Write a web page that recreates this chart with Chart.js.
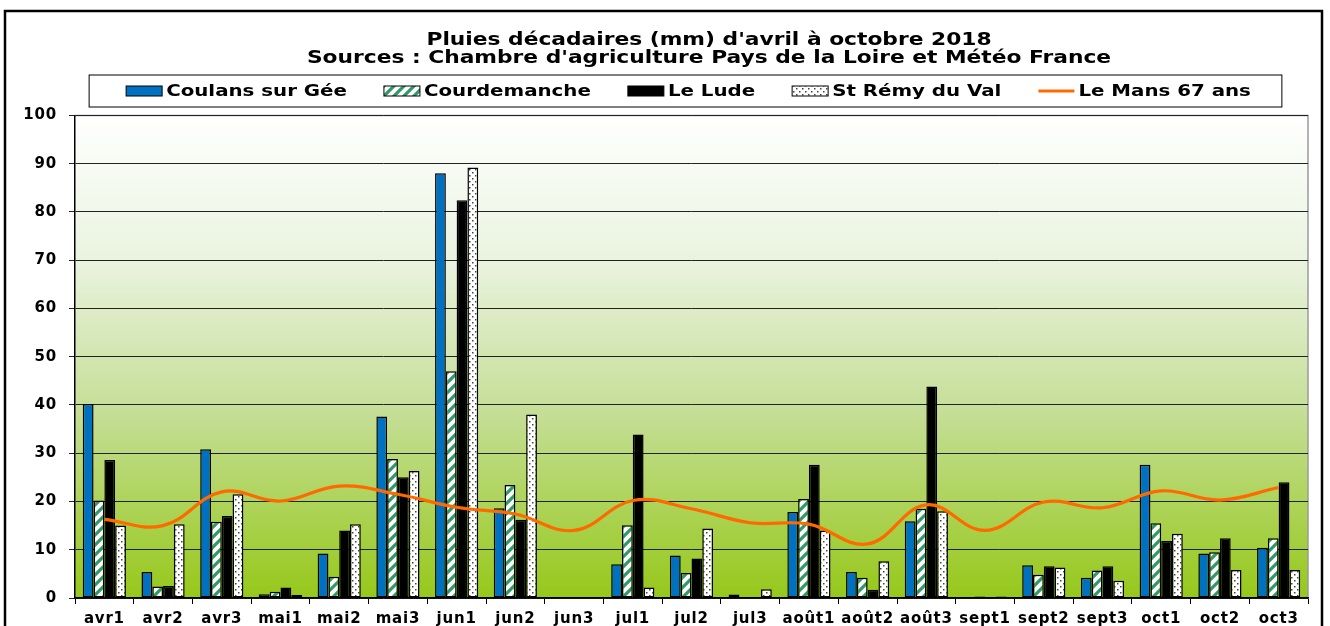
<!DOCTYPE html>
<html>
<head>
<meta charset="utf-8">
<script src="https://cdn.jsdelivr.net/npm/chart.js@4"></script>
<style>
    html, body {
        margin: 0;
        padding: 0;
        background: #ffffff;
    }
    #wrap {
        width: 1330px;
        height: 626px;
    }
</style>
</head>
<body>
<div id="wrap">
    <canvas id="rainChart" width="1330" height="626"></canvas>
</div>
<script>

const decades = [
    "avr1", "avr2", "avr3", "mai1", "mai2", "mai3", "jun1",
    "jun2", "jun3", "jul1", "jul2", "jul3", "août1", "août2",
    "août3", "sept1", "sept2", "sept3", "oct1", "oct2", "oct3"
];

const coulans = [
    40.2, 5.4, 30.8, 0.8, 9.2, 37.6, 88.0,
    18.6, 0.2, 7.0, 8.8, 0.7, 17.8, 5.4,
    15.9, 0, 6.8, 4.2, 27.6, 9.2, 10.4
];

const courdemanche = [
    20.2, 2.4, 15.8, 1.3, 4.4, 28.8, 47.0,
    23.4, 0, 15.1, 5.2, 0.2, 20.5, 4.2,
    18.5, 0.3, 4.8, 5.7, 15.5, 9.5, 12.4
];

const leLude = [
    28.6, 2.5, 17.0, 2.2, 14.0, 25.0, 82.4,
    16.2, 0, 33.9, 8.2, 0.2, 27.6, 1.7,
    43.8, 0, 6.6, 6.6, 11.8, 12.4, 24.0
];

const stRemy = [
    15.0, 15.3, 21.5, 0.6, 15.3, 26.3, 89.2,
    38.0, 0, 2.2, 14.4, 1.8, 14.0, 7.6,
    18.0, 0.3, 6.3, 3.6, 13.3, 5.8, 5.8
];

const leMans = [
    16.3, 15.0, 22.0, 20.1, 23.2, 21.5, 18.8,
    17.4, 14.0, 20.2, 18.5, 15.6, 15.3, 11.2,
    19.3, 14.0, 19.9, 18.7, 22.2, 20.3, 22.9
];

const yTicks = [0, 10, 20, 30, 40, 50, 60, 70, 80, 90, 100];

const titleLines = [
    "Pluies décadaires (mm) d'avril à octobre 2018",
    "Sources : Chambre d'agriculture Pays de la Loire et Météo France"
];

const FONT = "'DejaVu Sans', Verdana, sans-serif";

function stripePattern() {

    const c = document.createElement("canvas");
    c.width = 10;
    c.height = 10;
    const g = c.getContext("2d");

    g.fillStyle = "#ffffff";
    g.fillRect(0, 0, 10, 10);

    g.strokeStyle = "#2f9a68";
    g.lineWidth = 3.2;
    g.beginPath();
    g.moveTo(-5, 5);  g.lineTo(5, -5);
    g.moveTo(0, 10);  g.lineTo(10, 0);
    g.moveTo(5, 15);  g.lineTo(15, 5);
    g.stroke();

    return g.createPattern(c, "repeat");
}

function dotPattern() {

    const c = document.createElement("canvas");
    c.width = 6;
    c.height = 6;
    const g = c.getContext("2d");

    g.fillStyle = "#ffffff";
    g.fillRect(0, 0, 6, 6);

    g.fillStyle = "#444444";
    g.fillRect(1, 1, 1.5, 1.5);
    g.fillRect(4, 4, 1.5, 1.5);

    return g.createPattern(c, "repeat");
}

// plot background gradient + outer frame
const backdrop = {

    id: "backdrop",

    beforeDraw(chart) {

        const ctx = chart.ctx;
        const a = chart.chartArea;

        // the original's lettering is wide, spread tick text a little
        ctx.letterSpacing = "0.8px";

        ctx.save();

        ctx.fillStyle = "#ffffff";
        ctx.fillRect(0, 0, chart.width, chart.height);

        const grad = ctx.createLinearGradient(0, a.top, 0, a.bottom);
        grad.addColorStop(0, "#ffffff");
        grad.addColorStop(0.3, "#eaf3df");
        grad.addColorStop(0.62, "#c4de95");
        grad.addColorStop(1, "#96c81a");

        ctx.fillStyle = grad;
        ctx.fillRect(a.left, a.top, a.right - a.left, a.bottom - a.top);

        ctx.strokeStyle = "#9a9a9a";
        ctx.lineWidth = 1.5;
        ctx.beginPath();
        ctx.moveTo(a.left, a.top);
        ctx.lineTo(a.right, a.top);
        ctx.lineTo(a.right, a.bottom);
        ctx.stroke();

        ctx.strokeStyle = "#000000";
        ctx.lineWidth = 2.5;
        ctx.strokeRect(5, 11, 1317, 640);

        ctx.restore();
    }
};

// title: stretched horizontally and nudged right like the original
const wideTitle = {

    id: "wideTitle",

    afterLayout(chart) {

        const block = chart.titleBlock;

        if (!block || block._wide) {
            return;
        }

        const draw = block.draw.bind(block);

        block.draw = function () {
            const ctx = chart.ctx;
            const cx = (block.left + block.right) / 2;
            ctx.save();
            ctx.letterSpacing = "0px";
            ctx.translate(709, 0);
            ctx.scale(1.28, 1);
            ctx.translate(-cx, 0);
            draw();
            ctx.restore();
        };

        block._wide = true;
    }
};

// legend drawn in a framed box, items spaced like the original
const boxedLegend = {

    id: "boxedLegend",

    afterDraw(chart) {

        const ctx = chart.ctx;
        const a = chart.chartArea;
        const sets = chart.data.datasets;

        const boxW = 36;
        const boxH = 10;
        const textGap = 4;
        const itemGap = 37;
        const yMid = 91;
        const stretch = 1.2;

        ctx.save();
        ctx.font = "bold 16.5px " + FONT;
        ctx.letterSpacing = "0px";
        ctx.textBaseline = "middle";

        const widths = sets.map(
            ds => boxW + textGap + ctx.measureText(ds.label).width * stretch
        );

        const total =
            widths.reduce((s, w) => s + w, 0) +
            itemGap * (sets.length - 1);

        let x = (a.left + a.right) / 2 - 3 - total / 2;

        ctx.strokeStyle = "#000000";
        ctx.lineWidth = 1;
        ctx.strokeRect(x - 37, 75, total + 68, 32);

        sets.forEach((ds, i) => {

            if (ds.type === "line") {
                ctx.strokeStyle = ds.borderColor;
                ctx.lineWidth = 3;
                ctx.beginPath();
                ctx.moveTo(x, yMid);
                ctx.lineTo(x + boxW, yMid);
                ctx.stroke();
            } else {
                ctx.fillStyle = ds.backgroundColor;
                ctx.fillRect(x, yMid - boxH / 2, boxW, boxH);
                ctx.strokeStyle = "#000000";
                ctx.lineWidth = 1;
                ctx.strokeRect(x, yMid - boxH / 2, boxW, boxH);
            }

            ctx.save();
            ctx.translate(x + boxW + textGap, yMid + 1);
            ctx.scale(stretch, 1);
            ctx.fillStyle = "#000000";
            ctx.fillText(ds.label, 0, 0);
            ctx.restore();

            x += widths[i] + itemGap;
        });

        ctx.restore();
    }
};

function barSet(label, data, fill) {

    return {
        type: "bar",
        label,
        data,
        backgroundColor: fill,
        borderColor: "#000000",
        borderWidth: 1.5,
        borderSkipped: false,
        categoryPercentage: 0.735,
        barPercentage: 1,
        order: 1
    };
}

function createChart() {

    const ctx = document.getElementById("rainChart").getContext("2d");

    return new Chart(ctx, {

        data: {

            labels: decades,

            datasets: [

                barSet("Coulans sur Gée", coulans, "#0070c0"),

                barSet("Courdemanche", courdemanche, stripePattern()),

                barSet("Le Lude", leLude, "#000000"),

                barSet("St Rémy du Val", stRemy, dotPattern()),

                {
                    type: "line",
                    label: "Le Mans 67 ans",
                    data: leMans,
                    borderColor: "#ff6a00",
                    borderWidth: 3.2,
                    tension: 0.4,
                    pointRadius: 0,
                    fill: false,
                    order: 0
                }
            ]
        },

        options: {

            responsive: false,

            animation: false,

            layout: {
                padding: { left: 0, right: 22, top: 0, bottom: 0 }
            },

            plugins: {

                legend: {
                    display: false
                },

                tooltip: {
                    enabled: false
                },

                title: {
                    display: true,
                    fullSize: false,
                    text: titleLines,
                    color: "#000000",
                    font: { family: FONT, size: 17, weight: "bold", lineHeight: 1.1 },
                    padding: { top: 31, bottom: 47 }
                }
            },

            scales: {

                x: {

                    afterFit(scale) {
                        scale.height = 28;
                    },

                    grid: {
                        offset: true,
                        drawOnChartArea: false,
                        drawTicks: true,
                        tickLength: 6,
                        color: "#000000"
                    },

                    border: {
                        color: "#000000",
                        width: 1.5
                    },

                    ticks: {
                        color: "#000000",
                        padding: 6,
                        maxRotation: 0,
                        autoSkip: false,
                        font: { family: FONT, size: 15, weight: "bold" }
                    }
                },

                y: {

                    min: 0,
                    max: 100,

                    afterFit(scale) {
                        scale.width = 75;
                    },

                    afterBuildTicks(scale) {
                        scale.ticks = yTicks.map(v => ({ value: v }));
                    },

                    grid: {
                        color: "#222222",
                        lineWidth: 1,
                        tickLength: 6
                    },

                    border: {
                        color: "#000000",
                        width: 1.5
                    },

                    ticks: {
                        color: "#000000",
                        padding: 12,
                        font: { family: FONT, size: 15, weight: "bold" }
                    }
                }
            }
        },

        plugins: [backdrop, wideTitle, boxedLegend]
    });
}

createChart();
</script>
</body>
</html>
